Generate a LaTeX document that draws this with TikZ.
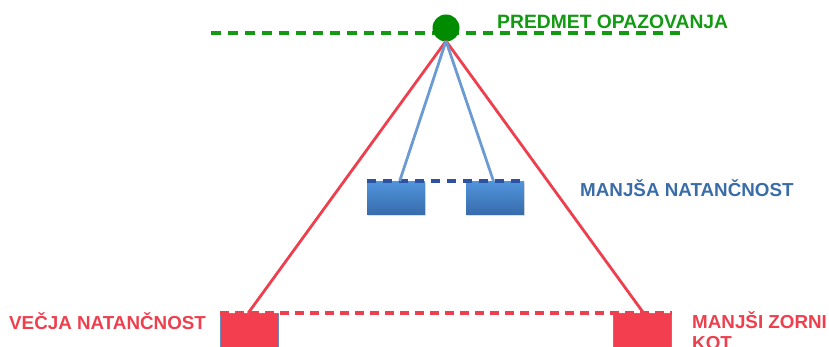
\documentclass[tikz,border=0pt]{standalone}
\usepackage{fontspec}
\setmainfont{Liberation Sans}
\usetikzlibrary{shadows,calc}
\definecolor{gcol}{HTML}{139A13}
\definecolor{gdot}{HTML}{008C00}
\definecolor{rcol}{HTML}{EE3F4E}
\definecolor{rfill}{HTML}{F23E4E}
\definecolor{rbord}{HTML}{6F86B8}
\definecolor{bline}{HTML}{6B9BD2}
\definecolor{btop}{HTML}{5094DC}
\definecolor{bbot}{HTML}{386CAC}
\definecolor{bdash}{HTML}{2D52A0}
\definecolor{btext}{HTML}{3A6DA8}
\tikzset{
  lbl/.style={font=\fontsize{18.8}{21}\selectfont\bfseries, inner sep=0pt, anchor=base west},
  redbox/.style={draw=rbord, line width=0.8pt, fill=rfill, minimum width=58pt, minimum height=40pt, anchor=north west, inner sep=0pt,
    drop shadow={shadow xshift=1pt, shadow yshift=-1.5pt, opacity=0.25}},
  bluebox/.style={top color=btop, bottom color=bbot, draw=none, minimum width=58pt, minimum height=33pt, anchor=north west, inner sep=0pt,
    drop shadow={shadow xshift=1pt, shadow yshift=-1.5pt, opacity=0.25}},
  gdash/.style={draw=gcol, line width=3.5pt, dash pattern=on 10pt off 7pt},
  rdash/.style={draw=rcol, line width=3.2pt, dash pattern=on 9pt off 6pt},
  bdashs/.style={draw=bdash, line width=3.5pt, dash pattern=on 9pt off 7pt},
  rray/.style={draw=rcol, line width=2.8pt},
  bray/.style={draw=bline, line width=2.8pt},
}
\begin{document}
\begin{tikzpicture}[x=1pt,y=-1pt]
\useasboundingbox (0,0) rectangle (829,347);
% boxes
\node[redbox] (rl) at (220,313) {};
\node[redbox] (rr) at (613,313) {};
\node[bluebox] (bl) at (367,181) {};
\node[bluebox] (br) at (466,181) {};
% dashed lines
\coordinate (gl) at (211,33);
\coordinate (gr) at (681,33);
\draw[gdash] (gl) -- (gr);
\draw[rdash] (rl.north west) -- (rr.north east);
\draw[bdashs] (bl.north west) -- (br.north east);
% object
\node[circle, fill=gdot, minimum size=27pt, inner sep=0pt] (obj) at (446,28) {};
\coordinate (apex) at (446,41);
% rays
\coordinate (rlt) at ($(rl.north west)!0.48!(rl.north east)$);
\coordinate (rrt) at ($(rr.north west)!0.52!(rr.north east)$);
\coordinate (blt) at ($(bl.north west)!0.56!(bl.north east)$);
\coordinate (brt) at ($(br.north west)!0.47!(br.north east)$);
\draw[rray] (apex) -- (rlt);
\draw[rray] (apex) -- (rrt);
\draw[bray] (apex) -- (blt);
\draw[bray] (apex) -- (brt);
% labels
\node[lbl, text=gcol, font=\fontsize{19.3}{21}\selectfont\bfseries] (tp) at (497,29) {PREDMET OPAZOVANJA};
\node[lbl, text=btext] (tb) at (580,197) {MANJŠA NATANČNOST};
\node[lbl, text=rcol] (tl) at (9,329) {VEČJA NATANČNOST};
\node[lbl, text=rcol, align=left] (tr) at (692,349) {MANJŠI ZORNI\\KOT};
\end{tikzpicture}
\end{document}
